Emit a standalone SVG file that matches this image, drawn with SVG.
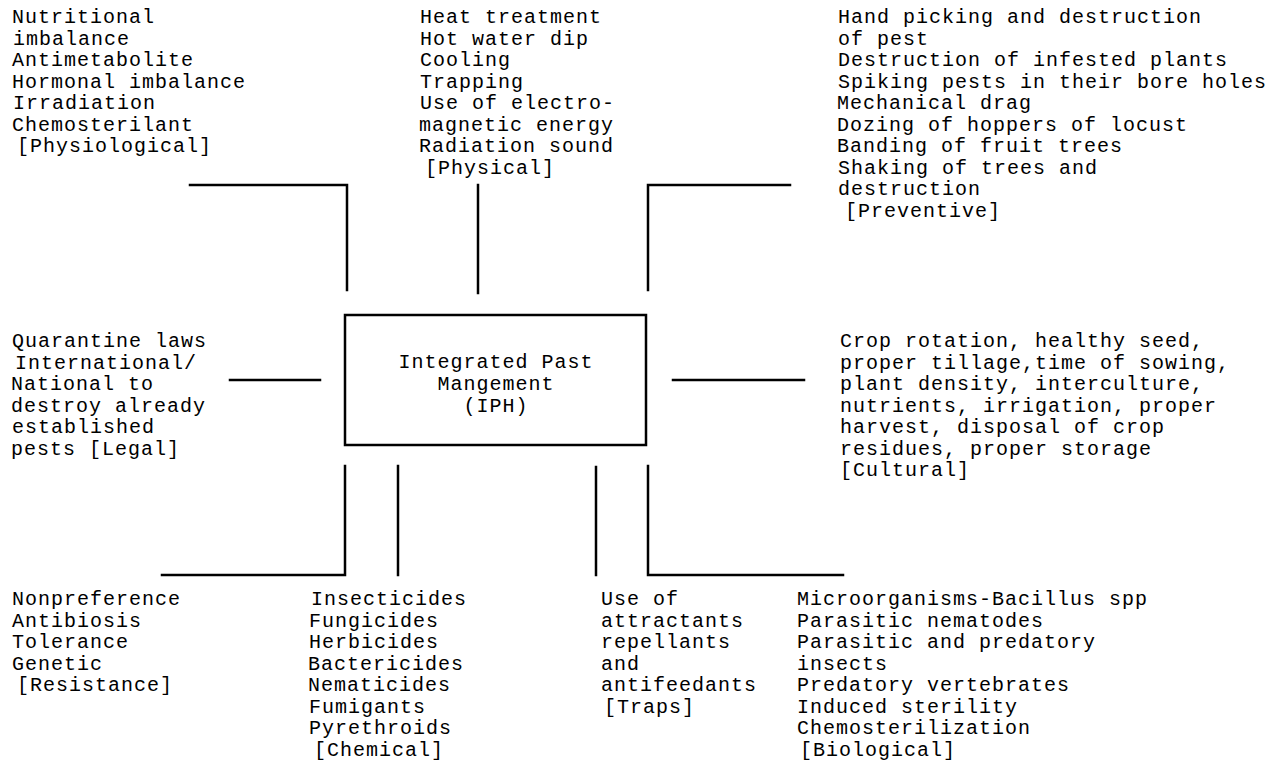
<svg xmlns="http://www.w3.org/2000/svg" width="1280" height="761" viewBox="0 0 1280 761">
<style>
text{font-family:"Liberation Mono","Courier New",monospace;font-size:20px;letter-spacing:1px;fill:#000}
.ln{stroke:#000;stroke-width:2.5;fill:none;stroke-linecap:square}
.box{stroke:#000;stroke-width:2.5;fill:#fff}
</style>
<rect width="1280" height="761" fill="#fff"/>
<g id="connectors">
<polyline class="ln" points="190,185 347,185 347,290"/>
<line class="ln" x1="478" y1="185" x2="478" y2="293"/>
<polyline class="ln" points="648,290 648,185 790,185"/>
<line class="ln" x1="230" y1="380" x2="320" y2="380"/>
<line class="ln" x1="673" y1="380" x2="804" y2="380"/>
<polyline class="ln" points="162,575 345,575 345,466"/>
<line class="ln" x1="398" y1="466" x2="398" y2="575"/>
<line class="ln" x1="596" y1="467" x2="596" y2="575"/>
<polyline class="ln" points="648,466 648,575 843,575"/>
</g>
<g id="center">
<rect class="box" x="345" y="315" width="301" height="130"/>
<text x="496" text-anchor="middle"><tspan x="496" y="368">Integrated Past</tspan><tspan x="496" y="390">Mangement</tspan><tspan x="496" y="412">(IPH)</tspan></text>
</g>
<g id="physiological">
<text><tspan x="12" y="23">Nutritional</tspan><tspan x="13" y="44.5">imbalance</tspan><tspan x="12" y="66">Antimetabolite</tspan><tspan x="12" y="87.5">Hormonal imbalance</tspan><tspan x="13" y="109">Irradiation</tspan><tspan x="12" y="130.5">Chemosterilant</tspan><tspan x="17" y="152">[Physiological]</tspan></text>
</g>
<g id="physical">
<text><tspan x="420" y="23">Heat treatment</tspan><tspan x="420" y="44.5">Hot water dip</tspan><tspan x="420" y="66">Cooling</tspan><tspan x="420" y="87.5">Trapping</tspan><tspan x="420" y="109">Use of electro-</tspan><tspan x="419" y="130.5">magnetic energy</tspan><tspan x="419" y="152">Radiation sound</tspan><tspan x="425" y="173.5">[Physical]</tspan></text>
</g>
<g id="preventive">
<text><tspan x="838" y="23">Hand picking and destruction</tspan><tspan x="838" y="44.5">of pest</tspan><tspan x="838" y="66">Destruction of infested plants</tspan><tspan x="838" y="87.5">Spiking pests in their bore holes</tspan><tspan x="837" y="109">Mechanical drag</tspan><tspan x="837" y="130.5">Dozing of hoppers of locust</tspan><tspan x="837" y="152">Banding of fruit trees</tspan><tspan x="838" y="173.5">Shaking of trees and</tspan><tspan x="838" y="195">destruction</tspan><tspan x="845" y="216.5">[Preventive]</tspan></text>
</g>
<g id="legal">
<text><tspan x="12" y="347">Quarantine laws</tspan><tspan x="15" y="368.5">International/</tspan><tspan x="11" y="390">National to</tspan><tspan x="11" y="411.5">destroy already</tspan><tspan x="12" y="433">established</tspan><tspan x="11" y="454.5">pests [Legal]</tspan></text>
</g>
<g id="cultural">
<text><tspan x="840" y="347">Crop rotation, healthy seed,</tspan><tspan x="840" y="368.5">proper tillage,time of sowing,</tspan><tspan x="840" y="390">plant density, interculture,</tspan><tspan x="840" y="411.5">nutrients, irrigation, proper</tspan><tspan x="840" y="433">harvest, disposal of crop</tspan><tspan x="840" y="454.5">residues, proper storage</tspan><tspan x="840" y="476">[Cultural]</tspan></text>
</g>
<g id="resistance">
<text><tspan x="12" y="605">Nonpreference</tspan><tspan x="12" y="626.5">Antibiosis</tspan><tspan x="12" y="648">Tolerance</tspan><tspan x="12" y="669.5">Genetic</tspan><tspan x="17" y="691">[Resistance]</tspan></text>
</g>
<g id="chemical">
<text><tspan x="311" y="605">Insecticides</tspan><tspan x="309" y="626.5">Fungicides</tspan><tspan x="309" y="648">Herbicides</tspan><tspan x="308" y="669.5">Bactericides</tspan><tspan x="308" y="691">Nematicides</tspan><tspan x="309" y="712.5">Fumigants</tspan><tspan x="309" y="734">Pyrethroids</tspan><tspan x="314" y="755.5">[Chemical]</tspan></text>
</g>
<g id="traps">
<text><tspan x="601" y="605">Use of</tspan><tspan x="601" y="626.5">attractants</tspan><tspan x="601" y="648">repellants</tspan><tspan x="601" y="669.5">and</tspan><tspan x="601" y="691">antifeedants</tspan><tspan x="604" y="712.5">[Traps]</tspan></text>
</g>
<g id="biological">
<text><tspan x="797" y="605">Microorganisms-Bacillus spp</tspan><tspan x="797" y="626.5">Parasitic nematodes</tspan><tspan x="797" y="648">Parasitic and predatory</tspan><tspan x="797" y="669.5">insects</tspan><tspan x="797" y="691">Predatory vertebrates</tspan><tspan x="797" y="712.5">Induced sterility</tspan><tspan x="797" y="734">Chemosterilization</tspan><tspan x="800" y="755.5">[Biological]</tspan></text>
</g>
</svg>
